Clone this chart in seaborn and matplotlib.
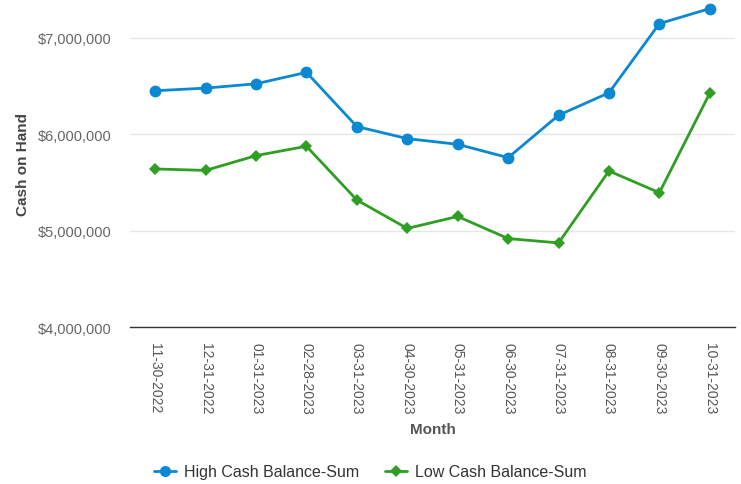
import matplotlib
matplotlib.use("Agg")
import matplotlib.pyplot as plt
import seaborn as sns
import pandas as pd
from matplotlib.ticker import FuncFormatter, FixedLocator
from matplotlib.lines import Line2D

months = ["11-30-2022", "12-31-2022", "01-31-2023", "02-28-2023", "03-31-2023", "04-30-2023",
          "05-31-2023", "06-30-2023", "07-31-2023", "08-31-2023", "09-30-2023", "10-31-2023"]
high = [6450000, 6477000, 6522000, 6640000, 6079000, 5954000,
        5895000, 5757000, 6196000, 6429000, 7145000, 7301000]
low = [5640000, 5625000, 5778000, 5875000, 5318000, 5024000,
       5148000, 4919000, 4874000, 5619000, 5394000, 6425000]
series_names = ["High Cash Balance-Sum", "Low Cash Balance-Sum"]
colors = ["#0a88d1", "#2e9f22"]
markers = ["o", "D"]

df = pd.DataFrame({
    "Month": months * 2,
    "Value": high + low,
    "Series": [series_names[0]] * len(months) + [series_names[1]] * len(months),
})

sns.set_theme(style="white")
plt.rcParams["font.family"] = ["Liberation Sans", "DejaVu Sans"]

fig = plt.figure(figsize=(7.41, 4.85), dpi=100)
ax = fig.add_axes([130 / 741, 1 - 328.3 / 485, 605 / 741, 328.3 / 485])

for name, col, mk, ms in zip(series_names, colors, markers, [8.5, 6.5]):
    sub = df[df["Series"] == name]
    sns.lineplot(data=sub, x="Month", y="Value", ax=ax, color=col, marker=mk,
                 markersize=ms, markeredgewidth=0, linewidth=2, legend=False, sort=False)

ax.set_xlim(-0.5, len(months) - 0.5)
ax.set_ylim(4000000, 7400000)
ax.yaxis.set_major_locator(FixedLocator([4000000, 5000000, 6000000, 7000000]))
ax.yaxis.set_major_formatter(FuncFormatter(lambda v, p: f"${v:,.0f}"))
ax.grid(axis="y", color="#e6e6e6", linewidth=1)
ax.grid(axis="x", visible=False)
for s in ["top", "right", "left"]:
    ax.spines[s].set_visible(False)
ax.spines["bottom"].set_color("#333333")
ax.spines["bottom"].set_linewidth(1)

ax.set_xticks(range(len(months)))
ax.set_xticklabels(months, rotation=-90, fontsize=10, color="#555555")
ax.tick_params(axis="x", which="major", length=0, pad=10.5)
ax.set_xticks([i - 0.5 for i in range(len(months) + 1)], minor=True)
ax.tick_params(axis="x", which="minor", length=10, color="#ccd6eb", width=1)
ax.tick_params(axis="y", length=0, pad=13, labelsize=10.5, labelcolor="#666666")

ax.set_xlabel("Month", fontsize=11, fontweight="bold", color="#555555", labelpad=6)
ax.set_ylabel("Cash on Hand", fontsize=11, fontweight="bold", color="#444444", labelpad=6)

handles = [Line2D([0], [0], color=c, marker=m, markersize=ms, markeredgewidth=0, linewidth=2)
           for c, m, ms in zip(colors, markers, [8, 6])]
fig.legend(handles, series_names, loc="center", bbox_to_anchor=(0.5, 1 - 473 / 485), ncol=2,
           frameon=False, fontsize=11.5, handlelength=1.4, columnspacing=1.6, handletextpad=0.5,
           labelcolor="#333333")

fig.savefig("out.png", dpi=100)
